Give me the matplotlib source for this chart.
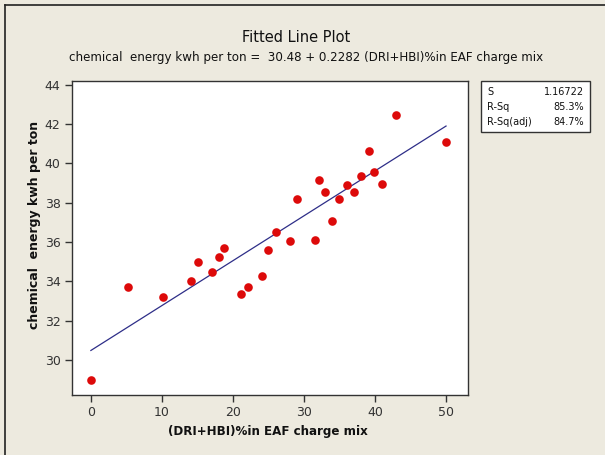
import matplotlib
matplotlib.use("Agg")
import matplotlib.pyplot as plt
from matplotlib.lines import Line2D
from matplotlib.patches import Rectangle

# Data
dri_hbi_pct = [0, 5.2, 10.2, 14.1, 15.1, 17.1, 18.1, 18.8, 21.1, 22.1, 24.1, 25.0,
               26.0, 28.1, 29.0, 31.5, 32.1, 33.0, 34.0, 35.0, 36.1, 37.0, 38.0,
               39.1, 39.9, 41.0, 43.0, 50.0]
chem_energy = [29.0, 33.73, 33.19, 34.02, 34.98, 34.49, 35.22, 35.71, 33.37, 33.71,
               34.27, 35.58, 36.49, 36.07, 38.19, 36.12, 39.15, 38.54, 37.08, 38.17,
               38.90, 38.53, 39.37, 40.64, 39.56, 38.95, 42.46, 41.07]
intercept = 30.48
slope = 0.2282
fit_x = [0, 50]
x_ticks = [0, 10, 20, 30, 40, 50]
y_ticks = [30, 32, 34, 36, 38, 40, 42, 44]
stat_names = ["S", "R-Sq", "R-Sq(adj)"]
stat_values = ["1.16722", "85.3%", "84.7%"]

bg = "#EDEADF"
W, H = 605, 455
fig = plt.figure(figsize=(W / 100, H / 100), dpi=100, facecolor=bg)

ax = fig.add_axes([71.7 / W, 1 - 395.3 / H, (467.7 - 71.7) / W, (395.3 - 81) / H])
ax.set_facecolor("white")

fit_y = [intercept + slope * v for v in fit_x]
ax.plot(fit_x, fit_y, color="#2E2E88", lw=0.9, zorder=2)
ax.plot(dri_hbi_pct, chem_energy, "o", color="#DD0A0A", markersize=6.2,
        markeredgewidth=0, zorder=3)

ax.set_xlim(-2.7, 53.05)
ax.set_ylim(28.2, 44.18)
ax.set_xticks(x_ticks)
ax.set_yticks(y_ticks)
ax.tick_params(direction="out", length=5, width=1, colors="#333333",
               labelsize=9, labelcolor="#333333", pad=3)
for s in ax.spines.values():
    s.set_color("#333333")
    s.set_linewidth(1.0)

for lab in ax.get_xticklabels() + ax.get_yticklabels():
    lab.set_family("DejaVu Sans")

# Titles
fig.text(296 / W, 1 - 37 / H, "Fitted Line Plot", ha="center", va="center",
         fontsize=10.5, family="DejaVu Sans", color="#111111")
fig.text(306 / W, 1 - 57 / H,
         "chemical  energy kwh per ton =  30.48 + 0.2282 (DRI+HBI)%in EAF charge mix",
         ha="center", va="center", fontsize=8.6, family="DejaVu Sans", color="#111111")

# Axis labels
fig.text(267.5 / W, 1 - 432 / H, "(DRI+HBI)%in EAF charge mix", ha="center",
         va="center", fontsize=8.6, fontweight="bold", family="DejaVu Sans",
         color="#111111")
fig.text(35 / W, 1 - 225 / H, "chemical  energy kwh per ton", ha="center",
         va="center", rotation=90, fontsize=9.0, fontweight="bold",
         family="DejaVu Sans", color="#111111")

# Stats box
bx0, by0, bx1, by1 = 481, 81, 590, 132
fig.patches.append(Rectangle((bx0 / W, 1 - by1 / H), (bx1 - bx0) / W, (by1 - by0) / H,
                             transform=fig.transFigure, facecolor="white",
                             edgecolor="#333333", lw=1.0))
rows_y = [92, 107, 122]
for name, val, yy in zip(stat_names, stat_values, rows_y):
    fig.text(487 / W, 1 - yy / H, name, ha="left", va="center", fontsize=7,
             family="DejaVu Sans", color="#111111")
    fig.text(584 / W, 1 - yy / H, val, ha="right", va="center", fontsize=7,
             family="DejaVu Sans", color="#111111")

# Outer border (top and left)
fig.lines.append(Line2D([5 / W, 1], [1 - 5 / H, 1 - 5 / H], transform=fig.transFigure,
                        color="#222222", lw=1.2))
fig.lines.append(Line2D([5 / W, 5 / W], [0, 1 - 5 / H], transform=fig.transFigure,
                        color="#222222", lw=1.2))

fig.savefig("out.png", dpi=100, facecolor=bg)
